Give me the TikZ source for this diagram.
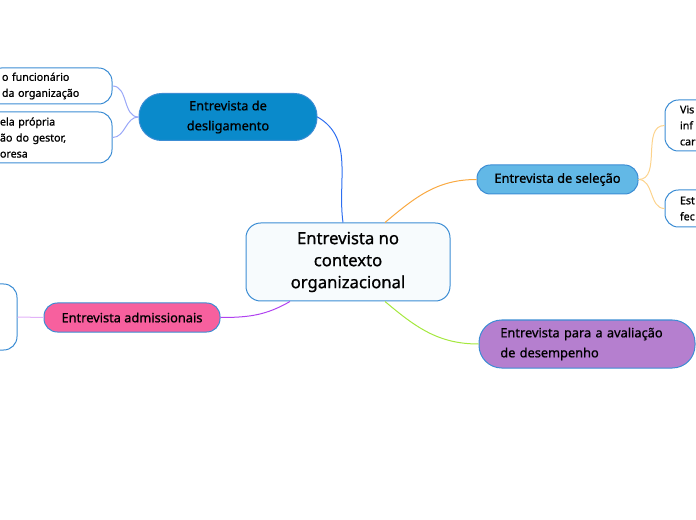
\documentclass[tikz,border=0pt]{standalone}
\usepackage{fontspec}
\setmainfont{Noto Sans}[FakeBold=0.9,BoldFont=Noto Sans,BoldFeatures={FakeBold=0.9}]
\usepackage{tikz}
\usetikzlibrary{positioning,calc}

\definecolor{rimblue}{HTML}{3C8DD4}
\definecolor{centfill}{HTML}{F7FBFD}
\definecolor{deslfill}{HTML}{0A8ACB}
\definecolor{selfill}{HTML}{62B8E6}
\definecolor{admfill}{HTML}{F7609E}
\definecolor{avalfill}{HTML}{B57FCF}
\definecolor{linkdesl}{HTML}{2D6EF0}
\definecolor{linksel}{HTML}{F9A942}
\definecolor{linkaval}{HTML}{A4E83E}
\definecolor{linkadm}{HTML}{B042F0}
\definecolor{twigdesl}{HTML}{9AA8F8}
\definecolor{twigsel}{HTML}{FCD38C}
\definecolor{twigadm}{HTML}{E2B2F8}

\begin{document}
\begin{tikzpicture}[x=0.75pt,y=-0.75pt,
    topic/.style={draw=rimblue, line width=0.75pt, fill=centfill, rounded corners=11pt,
        minimum width=153pt, minimum height=58.5pt, align=center, font=\bfseries\fontsize{12.5}{16.5}\selectfont},
    branch/.style={draw=rimblue, line width=0.75pt, rounded corners=#1, align=center,
        inner sep=0pt, font=\bfseries\fontsize{9.6}{15}\selectfont},
    leaf/.style={draw=rimblue, line width=0.75pt, fill=white, rounded corners=10pt,
        inner sep=0pt, align=left, font=\bfseries\fontsize{8}{12}\selectfont},
    link/.style={line width=0.75pt}]
    \useasboundingbox (0,0) rectangle (696,520);
    \clip (0,0) rectangle (696,520);

    \node[topic] (cent) at (348,262) {Entrevista no\\contexto\\organizacional};

    \node[branch=17pt, fill=deslfill, minimum width=133.5pt, minimum height=35.25pt] (desl) at (228,117) {Entrevista de\\desligamento};
    \node[branch=10pt, fill=selfill, minimum width=120.75pt, minimum height=21.75pt] (sel) at (557.5,179.5) {Entrevista de seleção};
    \node[branch=17pt, fill=avalfill, minimum width=162pt, minimum height=36pt, align=left,
        text width=130pt] (aval) at (587,344) {Entrevista para a avaliação\\de desempenho};
    \node[branch=10pt, fill=admfill, minimum width=132pt, minimum height=21.75pt] (adm) at (132,317.5) {Entrevista admissionais};

    % folhas cortadas pela borda
    \node[leaf, text width=72pt, minimum width=93pt, minimum height=27pt] (deslA) at (50,86) {o funcionário\\da organização};
    \node[leaf, text width=72pt, minimum width=96pt, minimum height=38.25pt] (deslB) at (48,137.5) {ela própria\\ão do gestor,\\oresa};
    \node[leaf, text width=75pt, minimum width=97.5pt, minimum height=38.25pt] (selA) at (730,125.5) {Vis\\inf\\car};
    \node[leaf, text width=75pt, minimum width=97.5pt, minimum height=27.75pt] (selB) at (730,208.5) {Est\\fec};
    \node[leaf, minimum width=72.75pt, minimum height=49.5pt] (admA) at (-31.5,317) {};

    \draw[link, linkdesl] ([xshift=-3.75pt]cent.north) to[out=98,in=-30] (desl.east);
    \draw[link, linksel] ([xshift=27.75pt]cent.north) to[out=40,in=180] (sel.west);
    \draw[link, linkaval] ([xshift=27.75pt]cent.south) to[out=-40,in=180] (aval.west);
    \draw[link, linkadm] ([xshift=-43.5pt]cent.south) to[out=-150,in=0] (adm.east);

    \foreach \t in {deslA,deslB} {\draw[link, twigdesl] (desl.west) to[out=180,in=0] (\t.east);}
    \foreach \t in {selA,selB} {\draw[link, twigsel] (sel.east) to[out=0,in=180] (\t.west);}
    \draw[link, twigadm] (adm.west) -- (admA.east);
\end{tikzpicture}
\end{document}
